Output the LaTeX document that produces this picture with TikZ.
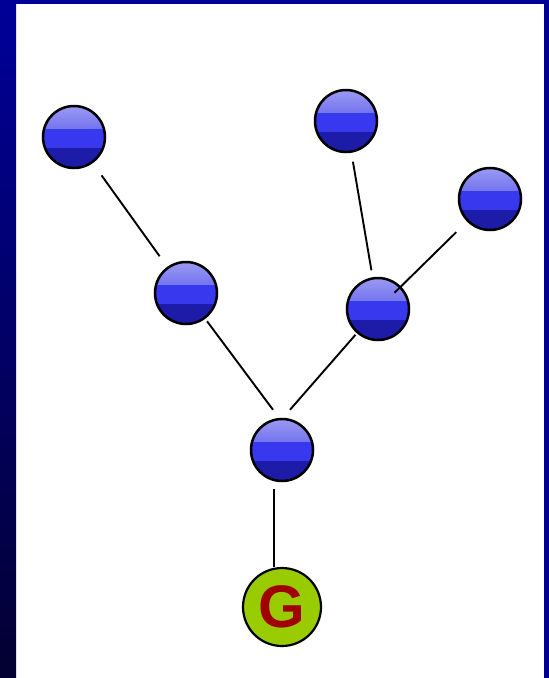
\documentclass[tikz,border=0pt]{standalone}
\usepackage{fontspec}
\newfontfamily\gfont{Liberation Sans}
\usetikzlibrary{calc}
\definecolor{frameblue}{HTML}{000099}
\definecolor{framedark}{HTML}{030032}
\definecolor{bandtopl}{HTML}{9A9AF4}
\definecolor{bandtop}{HTML}{7474EE}
\definecolor{bandmid}{HTML}{3838EE}
\definecolor{bandbot}{HTML}{1C1CA8}
\definecolor{gnodefill}{HTML}{99CC00}
\definecolor{gletter}{HTML}{A00000}
\tikzset{
  ball/.style={circle, draw=black, line width=2.5pt, minimum size=62pt, inner sep=0pt,
    path picture={
      \path (path picture bounding box.north west) coordinate (pnw)
            (path picture bounding box.south east) coordinate (pse);
      \path ($(pnw)!0.37!(pse)$) coordinate (pa) ($(pnw)!0.67!(pse)$) coordinate (pb);
      \fill[bandmid] (pnw) rectangle (pse);
      \shade[top color=bandtopl, bottom color=bandtop] (pnw) rectangle (pse|-pa);
      \fill[bandbot] (pnw|-pb) rectangle (pse);
    }},
  goal/.style={circle, draw=black, line width=2.2pt, minimum size=78pt, inner sep=0pt,
    fill=gnodefill, text=gletter, font=\gfont\bfseries\fontsize{60}{60}\selectfont},
  link/.style={draw=black, line width=1.9pt},
}
\begin{document}
\begin{tikzpicture}[x=1pt, y=-1pt]
  \useasboundingbox (0,0) rectangle (549,678);
  \fill[white] (0,0) rectangle (549,678);
  \shade[top color=frameblue, bottom color=framedark] (0,0) rectangle (16,678);
  \fill[frameblue] (0,0) rectangle (549,4);
  \fill[frameblue] (544,0) rectangle (549,678);

  \node[ball] (n1) at (74,137) {};
  \node[ball] (n2) at (346,121) {};
  \node[ball] (n3) at (490,199) {};
  \node[ball] (n4) at (186,293) {};
  \node[ball] (n5) at (378,309) {};
  \node[ball] (n6) at (282,450) {};
  \node[goal] (g) at (282,607) {G};

  \coordinate (n6l) at ($(n6.north)+(-9,-8)$);
  \coordinate (n6r) at ($(n6.north)+(8,-8)$);

  \draw[link, shorten <=15pt, shorten >=13pt] (n1) -- (n4);
  \draw[link, shorten <=9pt, shorten >=7pt] (n2) -- (n5);
  \draw[link, shorten <=15pt, shorten >=-9pt] (n3) -- (n5);
  \draw[link, shorten <=3pt] (n4) -- (n6l);
  \draw[link, shorten <=2pt] (n5) -- (n6r);
  \draw[link] ($(n6.south)+(-8,7)$) -- ($(n6.south |- g.north)+(-8,0)$);
\end{tikzpicture}
\end{document}
